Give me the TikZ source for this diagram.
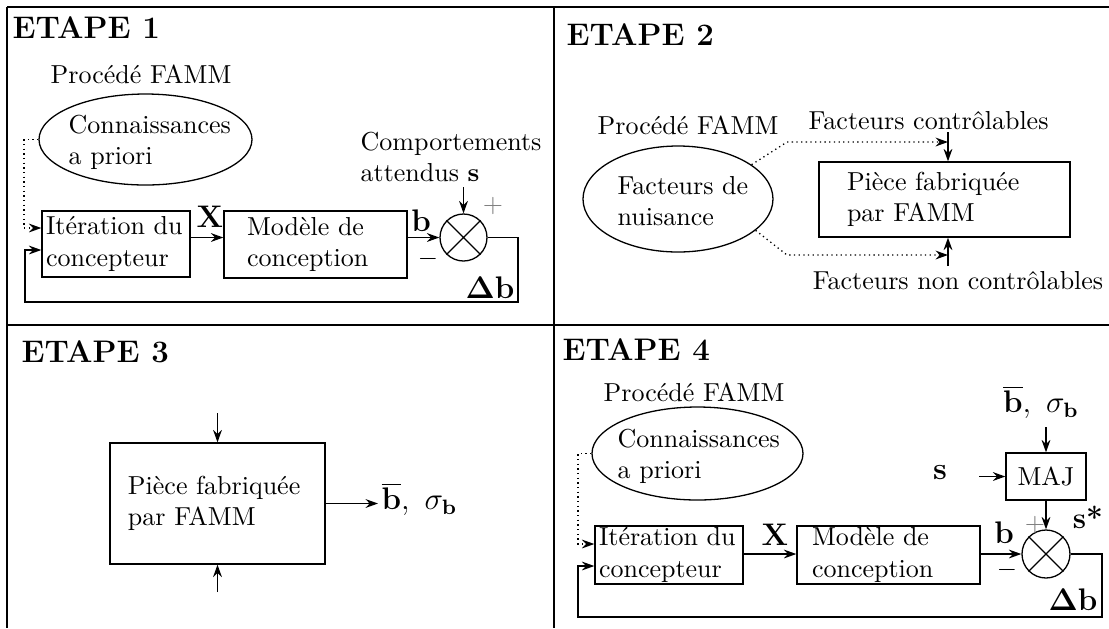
\documentclass[tikz,border=0pt]{standalone}
\usetikzlibrary{arrows.meta,shapes.geometric,calc}
\newdimen\pxu
\pxu=0.3846pt
\begin{document}
\begin{tikzpicture}[x=0.3846pt,y=-0.3846pt, line width=0.5pt,
  arr/.style={-{Stealth[length=4.8pt,width=3.4pt,inset=1.6pt]}},
  dotarr/.style={arr, dash pattern=on 0.5pt off 1.3pt},
  box/.style={draw, rectangle, align=left, inner ysep=0pt},
  ell/.style={draw, ellipse, inner sep=0pt},
  txt/.style={inner sep=0pt},
  ttl/.style={font=\large\bfseries, inner sep=0pt, anchor=west},
  sumc/.style={draw, circle, inner sep=0pt},
  mlab/.style={font=\fontsize{11.5}{14}\selectfont, inner sep=0pt},
  pls/.style={text=gray, inner sep=0pt},
  frm/.style={line width=0.6pt}]
\useasboundingbox (0,0) rectangle (1109,628);
% frame
\draw[frm] (7,7) -- (7,628) (554,7) -- (554,628) (7,7) -- (1109,7) (7,325) -- (1109,325);

% ===== ETAPE 1 =====
\node[ttl] (t1) at (12,28) {ETAPE 1};
\node[txt] (p1) at (141,74) {Procédé FAMM};
\node[ell, minimum width=213\pxu, minimum height=91\pxu] (ell1) at (145.5,139.5) {};
\node[txt, align=left, anchor=west] (ell1t) at (68,142) {Connaissances\\a priori};
\node[txt, align=left, anchor=west] (comp1) at (360,157) {Comportements\\attendus $\mathbf{s}$};
\node[box, minimum height=66\pxu, inner xsep=4\pxu, text width=140\pxu] (it1) at (116,244) {Itération du\\concepteur};
\node[box, minimum height=67\pxu, inner xsep=23\pxu, text width=137\pxu] (mod1) at (315.5,244.5) {Modèle de\\conception};
\node[sumc, minimum size=47\pxu] (sum1) at (463.5,237.5) {};
\draw (sum1.north west) -- (sum1.south east) (sum1.north east) -- (sum1.south west);
\coordinate (s1a) at (463.5,187);
\draw[arr] (s1a) -- (sum1.north);
\draw[arr] (it1.east |- sum1) -- (mod1.west |- sum1);
\draw[arr] (mod1.east |- sum1) -- (sum1.west);
\coordinate (f1a) at (518,302);
\coordinate (f1b) at (25,302);
\coordinate (it1fb) at ($(it1.west)+(0,6)$);
\draw[arr] (sum1.east) -| (f1a) -- (f1b) |- (it1fb);
\coordinate (d1a) at (24,228);
\coordinate (it1dt) at ($(it1.west)+(0,-16)$);
\draw[dotarr] (ell1.west) -| (d1a) -- (it1dt);
\node[mlab] (x1) at (210,217) {$\mathbf{X}$};
\node[mlab] (b1) at (421,221) {$\mathbf{b}$};
\node[txt] (m1) at (428,259) {$-$};
\node[pls] (pl1) at (493,206) {$+$};
\node[mlab] (db1) at (490,288) {$\mathbf{\Delta b}$};

% ===== ETAPE 2 =====
\node[ttl] (t2) at (566,35) {ETAPE 2};
\node[txt] (p2) at (688,125) {Procédé FAMM};
\node[txt, anchor=west] (fc2) at (808,121) {Facteurs contrôlables};
\node[ell, minimum width=190\pxu, minimum height=106\pxu] (ell2) at (678,199) {};
\node[txt, align=left, anchor=west] (ell2t) at (617,201) {Facteurs de\\nuisance};
\node[box, minimum height=75\pxu, inner xsep=28\pxu, text width=195\pxu] (box2) at (944.5,199.5) {Pièce fabriquée\\par FAMM};
\coordinate (c2a) at (948,132);
\coordinate (c2b) at (948,266);
\draw[arr] (c2a) -- (c2a |- box2.north);
\draw[arr] (c2b) -- (c2b |- box2.south);
\coordinate (d2a) at (787,142);
\coordinate (d2b) at (948,142);
\coordinate (d2c) at (787,255);
\coordinate (d2d) at (948,255);
\draw[dotarr] (ell2.25) -- (d2a) -- (d2b);
\draw[dotarr] (ell2.-22) -- (d2c) -- (d2d);
\node[txt] (fn2) at (958,281) {Facteurs non contrôlables};

% ===== ETAPE 3 =====
\node[ttl] (t3) at (21,352) {ETAPE 3};
\node[box, minimum height=121\pxu, inner xsep=18\pxu, text width=179\pxu] (box3) at (217.5,503.5) {Pièce fabriquée\\par FAMM};
\coordinate (c3a) at (217.5,413);
\coordinate (c3b) at (217.5,592);
\coordinate (c3c) at (378,503.5);
\draw[arr] (c3a) -- (box3.north);
\draw[arr] (c3b) -- (box3.south);
\draw[arr] (box3.east) -- (c3c);
\node[mlab, anchor=west] (o3) at (381,499) {$\overline{\mathbf{b}},\ \sigma_{\mathbf{b}}$};

% ===== ETAPE 4 =====
\node[ttl] (t4) at (562,350) {ETAPE 4};
\node[txt] (p4) at (694,392) {Procédé FAMM};
\node[ell, minimum width=211\pxu, minimum height=93\pxu] (ell4) at (697.5,453.5) {};
\node[txt, align=left, anchor=west] (ell4t) at (617,456) {Connaissances\\a priori};
\node[box, minimum height=58\pxu, inner xsep=4\pxu, text width=140\pxu] (it4) at (669,555) {Itération du\\concepteur};
\node[box, minimum height=58\pxu, inner xsep=15\pxu, text width=153\pxu] (mod4) at (888.5,555) {Modèle de\\conception};
\node[sumc, minimum size=48\pxu] (sum4) at (1046,554) {};
\draw (sum4.north west) -- (sum4.south east) (sum4.north east) -- (sum4.south west);
\node[draw, rectangle, minimum width=80\pxu, minimum height=47\pxu, inner sep=0pt] (maj) at (1046,476.5) {MAJ};
\node[mlab] (bs4) at (1041,402) {$\overline{\mathbf{b}},\ \sigma_{\mathbf{b}}$};
\coordinate (c4a) at (1046,427);
\draw[arr] (c4a) -- (maj.north);
\draw[arr] (maj.south) -- (sum4.north);
\node[mlab] (s4) at (940,473) {$\mathbf{s}$};
\coordinate (c4s) at (979,476.5);
\draw[arr] (c4s) -- (maj.west);
\draw[arr] (it4.east |- sum4) -- (mod4.west |- sum4);
\draw[arr] (mod4.east |- sum4) -- (sum4.west);
\coordinate (f4a) at (1102,617);
\coordinate (f4b) at (578,617);
\coordinate (it4fb) at ($(it4.west)+(0,11)$);
\draw[arr] (sum4.east) -| (f4a) -- (f4b) |- (it4fb);
\coordinate (d4a) at (578,544);
\coordinate (it4dt) at ($(it4.west)+(0,-11)$);
\draw[dotarr] (ell4.west) -| (d4a) -- (it4dt);
\node[mlab] (x4) at (775,535) {$\mathbf{X}$};
\node[mlab] (b4) at (1004,533) {$\mathbf{b}$};
\node[txt] (m4) at (1007,570) {$-$};
\node[pls] (pl4) at (1035,525) {$+$};
\node[mlab] (ss4) at (1088,517) {\bfseries s*};
\node[mlab] (db4) at (1073,600) {$\mathbf{\Delta b}$};
\end{tikzpicture}
\end{document}
